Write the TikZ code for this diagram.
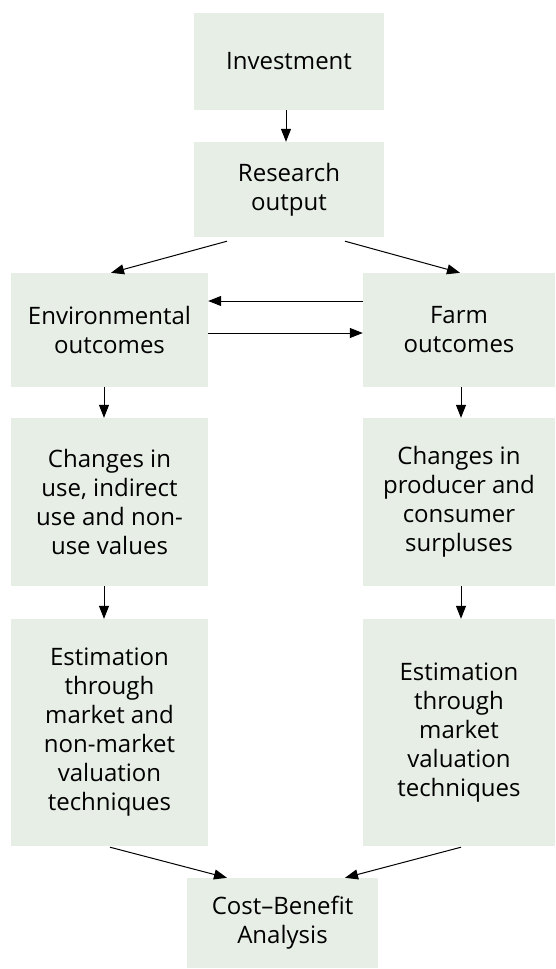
\documentclass[tikz,border=0pt]{standalone}
\usepackage{fontspec}
\setmainfont{Open Sans}
\usetikzlibrary{arrows.meta}
\definecolor{boxfill}{RGB}{231,238,230}
\tikzset{
  box/.style={fill=boxfill, draw=none, align=center, inner sep=0pt,
    font=\fontsize{24pt}{29pt}\selectfont, text=black},
  arr/.style={line width=1pt, -{Triangle[length=13pt,width=10pt]}},
}
\begin{document}
\begin{tikzpicture}[x=1pt,y=1pt]
\useasboundingbox (0,0) rectangle (555,-969);
\node[box, minimum width=190pt, minimum height=97pt] (inv) at (289,-61.5) {Investment};
\node[box, minimum width=190pt, minimum height=95pt] (res) at (289,-189.5) {Research\\output};
\node[box, minimum width=197pt, minimum height=114pt] (env) at (109.5,-330) {Environmental\\outcomes};
\node[box, minimum width=192pt, minimum height=114pt] (farm) at (459,-330) {Farm\\outcomes};
\node[box, minimum width=197pt, minimum height=168pt] (chL) at (109.5,-502) {Changes in\\use, indirect\\use and non-\\use values};
\node[box, minimum width=192pt, minimum height=168pt] (chR) at (459,-502) {Changes in\\producer and\\consumer\\surpluses};
\node[box, minimum width=197pt, minimum height=227pt] (estL) at (109.5,-732.5) {Estimation\\through\\market and\\non-market\\valuation\\techniques};
\node[box, minimum width=192pt, minimum height=227pt] (estR) at (459,-732.5) {Estimation\\through\\market\\valuation\\techniques};
\node[box, minimum width=191pt, minimum height=90pt] (cba) at (282.5,-923) {Cost–Benefit\\Analysis};

\draw[arr] ([xshift=-3pt]inv.south) -- ([xshift=-3pt]res.north);
\draw[arr] ([xshift=-62pt,yshift=-4pt]res.south) -- ([xshift=1.5pt]env.north);
\draw[arr] ([xshift=56pt,yshift=-4pt]res.south) -- ([xshift=1pt]farm.north);
\draw[arr] ([yshift=29pt]farm.west) -- ([yshift=29pt]env.east);
\draw[arr] ([yshift=-3pt]env.east) -- ([yshift=-3pt]farm.west);
\draw[arr] ([xshift=-5.5pt]env.south) -- ([xshift=-5.5pt]chL.north);
\draw[arr] ([xshift=2pt]farm.south) -- ([xshift=2pt]chR.north);
\draw[arr] ([xshift=-5.5pt]chL.south) -- ([xshift=-5.5pt]estL.north);
\draw[arr] ([xshift=2pt]chR.south) -- ([xshift=2pt]estR.north);
\draw[arr] ([xshift=0.5pt,yshift=-1pt]estL.south) -- ([xshift=-55.5pt]cba.north);
\draw[arr] ([xshift=2pt,yshift=-1pt]estR.south) -- ([xshift=62.5pt]cba.north);
\end{tikzpicture}
\end{document}
